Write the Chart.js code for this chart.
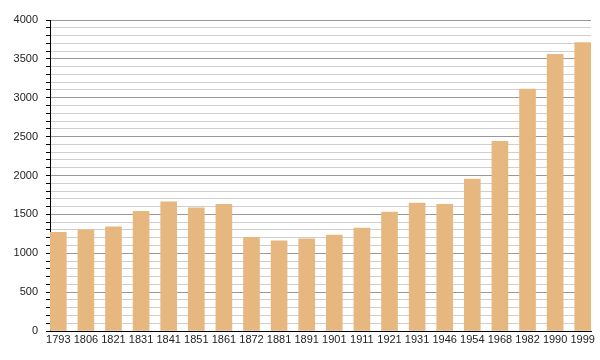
<!DOCTYPE html>
<html>
<head>
<meta charset="utf-8">
<script src="https://cdn.jsdelivr.net/npm/chart.js@4"></script>
<style>
  html, body { margin: 0; padding: 0; background: #fff; }
  #wrap { width: 600px; height: 360px; }
</style>
</head>
<body>
<div id="wrap"><canvas id="grafico" width="600" height="360"></canvas></div>
<script>
// population par année de recensement
const annees = ["1793", "1806", "1821", "1831", "1841", "1851", "1861", "1872", "1881", "1891",
                "1901", "1911", "1921", "1931", "1946", "1954", "1968", "1982", "1990", "1999"];
const population = [1270, 1300, 1340, 1540, 1660, 1585, 1630, 1205, 1160, 1185,
                    1235, 1325, 1530, 1645, 1630, 1955, 2440, 3110, 3560, 3710];
const yMax = 4000;

const ctx = document.getElementById("grafico");
new Chart(ctx, {
    type: "bar",
    data: {
        datasets: [{
            data: population.map((v, i) => ({ x: i, y: v })),
            backgroundColor: "#e6b87f",
            borderWidth: 0,
            barThickness: 16
        }]
    },
    options: {
        responsive: false,
        animation: false,
        layout: { padding: { left: 0, right: 9, top: 20, bottom: 0 } },
        plugins: { legend: { display: false }, tooltip: { enabled: false } },
        scales: {
            x: {
                type: "linear",
                offset: false,
                min: -0.3,
                max: annees.length - 0.7,
                afterBuildTicks: (scale) => {
                    scale.ticks = annees.map((_, i) => ({ value: i }));
                },
                afterFit: (scale) => { scale.height = 29; },
                grid: { display: false, drawTicks: false, tickLength: 0 },
                border: { color: "#000", width: 1 },
                ticks: {
                    autoSkip: false,
                    maxRotation: 0,
                    padding: 2,
                    color: "#222",
                    font: { family: "Liberation Sans", size: 11 },
                    callback: (v) => annees[v]
                }
            },
            y: {
                min: 0,
                max: yMax,
                afterFit: (scale) => { scale.width = 50; },
                border: { color: "#000", width: 1 },
                grid: {
                    color: (c) => c.tick.value === 0 ? "#000" : (c.tick.value % 500 === 0 ? "#999" : "#cfcfcf"),
                    tickColor: "#000",
                    tickLength: 4
                },
                ticks: {
                    stepSize: 100,
                    autoSkip: false,
                    padding: 8,
                    color: "#222",
                    font: { family: "Liberation Sans", size: 11 },
                    callback: (v) => v % 500 === 0 ? v : ""
                }
            }
        }
    }
});
</script>
</body>
</html>
